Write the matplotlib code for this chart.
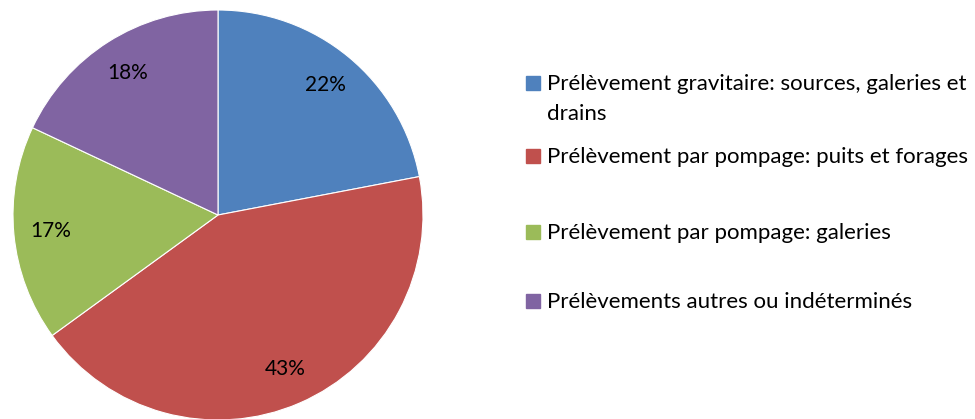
import matplotlib
matplotlib.use("Agg")
import matplotlib.pyplot as plt
from matplotlib.patches import Rectangle

labels = [
    "Prélèvement gravitaire: sources, galeries et\ndrains",
    "Prélèvement par pompage: puits et forages",
    "Prélèvement par pompage: galeries",
    "Prélèvements autres ou indéterminés",
]
shares = [22, 43, 17, 18]
colors = ["#4F81BD", "#C0504D", "#9BBB59", "#8064A2"]

W, H = 975, 419
plt.rcParams["font.family"] = ["Lato", "DejaVu Sans"]

fig = plt.figure(figsize=(W / 100, H / 100), dpi=100)

# pie axes placed in pixels: centre (218, 215), radius 205
cx, cy, r = 218, 215, 205
ax = fig.add_axes([(cx - r) / W, (H - cy - r) / H, 2 * r / W, 2 * r / H])
ax.pie(
    shares,
    colors=colors,
    startangle=90,
    counterclock=False,
    autopct="%d%%",
    pctdistance=0.82,
    wedgeprops={"edgecolor": "white", "linewidth": 0.8},
    textprops={"fontsize": 15, "color": "black"},
)
ax.set_xlim(-1, 1)
ax.set_ylim(-1, 1)
ax.set_aspect("equal")
ax.axis("off")

# legend drawn by hand to mimic the uneven Excel spacing (baselines in px)
baselines = [90, 163, 239, 308]
for label, color, y in zip(labels, colors, baselines):
    fig.patches.append(
        Rectangle((526 / W, (H - y) / H), 14 / W, 14 / H,
                  transform=fig.transFigure, color=color)
    )
    first, *rest = label.split("\n")
    fig.text(547 / W, (H - y) / H, first, fontsize=16, va="baseline", ha="left")
    for i, extra in enumerate(rest, start=1):
        fig.text(547 / W, (H - y - 30 * i) / H, extra, fontsize=16,
                 va="baseline", ha="left")

fig.savefig("out.png", dpi=100)
